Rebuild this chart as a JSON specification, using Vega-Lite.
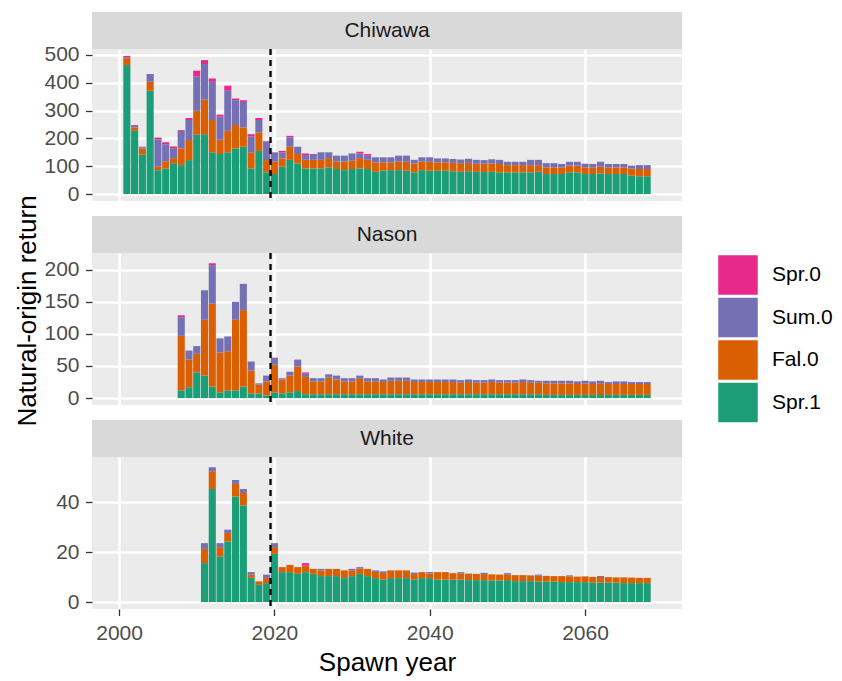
{
"$schema":"https://vega.github.io/schema/vega-lite/v6.json",
"padding":{"left":14,"top":12,"right":5,"bottom":5},
"background":"#FFFFFF",
"bounds":"flush",
"spacing":0,
"config":{"font":"Liberation Sans","view":{"fill":"#EBEBEB","stroke":null},
"axis":{"domain":false,"gridColor":"#FFFFFF","gridWidth":2.6,"tickColor":"#333333","tickSize":6.5,"tickWidth":1.3,"labelColor":"#4D4D4D","labelFontSize":21,"labelFont":"Liberation Sans","labelPadding":6.5,"titleFont":"Liberation Sans","titleFontSize":26,"titleFontWeight":"normal","titleColor":"#000000"},
"legend":{"symbolType":"square","symbolSize":1560,"symbolStrokeWidth":0,"symbolOpacity":1,"labelFontSize":21,"labelFont":"Liberation Sans","labelColor":"#000000","rowPadding":2.5,"labelOffset":14,"padding":0}},
"datasets":{
"strips":[{"site":"Chiwawa"},{"site":"Nason"},{"site":"White"}],
"levels":[{"cls":"Spr.0","lvl":1},{"cls":"Sum.0","lvl":2},{"cls":"Fal.0","lvl":3},{"cls":"Spr.1","lvl":4}],
"chiwawa":[
{"year":2001,"cls":"Spr.1","n":463},{"year":2001,"cls":"Fal.0","n":25},{"year":2001,"cls":"Sum.0","n":3},{"year":2001,"cls":"Spr.0","n":5},
{"year":2002,"cls":"Spr.1","n":227},{"year":2002,"cls":"Fal.0","n":12},{"year":2002,"cls":"Sum.0","n":6},{"year":2002,"cls":"Spr.0","n":3},
{"year":2003,"cls":"Spr.1","n":142},{"year":2003,"cls":"Fal.0","n":22},{"year":2003,"cls":"Sum.0","n":4},{"year":2003,"cls":"Spr.0","n":2},
{"year":2004,"cls":"Spr.1","n":371},{"year":2004,"cls":"Fal.0","n":32},{"year":2004,"cls":"Sum.0","n":28},
{"year":2005,"cls":"Spr.1","n":86},{"year":2005,"cls":"Fal.0","n":12},{"year":2005,"cls":"Sum.0","n":99},{"year":2005,"cls":"Spr.0","n":6},
{"year":2006,"cls":"Spr.1","n":92},{"year":2006,"cls":"Fal.0","n":25},{"year":2006,"cls":"Sum.0","n":62},{"year":2006,"cls":"Spr.0","n":7},
{"year":2007,"cls":"Spr.1","n":111},{"year":2007,"cls":"Fal.0","n":18},{"year":2007,"cls":"Sum.0","n":36},{"year":2007,"cls":"Spr.0","n":6},
{"year":2008,"cls":"Spr.1","n":104},{"year":2008,"cls":"Fal.0","n":60},{"year":2008,"cls":"Sum.0","n":63},{"year":2008,"cls":"Spr.0","n":3},
{"year":2009,"cls":"Spr.1","n":122},{"year":2009,"cls":"Fal.0","n":72},{"year":2009,"cls":"Sum.0","n":72},{"year":2009,"cls":"Spr.0","n":7},
{"year":2010,"cls":"Spr.1","n":213},{"year":2010,"cls":"Fal.0","n":86},{"year":2010,"cls":"Sum.0","n":123},{"year":2010,"cls":"Spr.0","n":21},
{"year":2011,"cls":"Spr.1","n":215},{"year":2011,"cls":"Fal.0","n":124},{"year":2011,"cls":"Sum.0","n":128},{"year":2011,"cls":"Spr.0","n":14},
{"year":2012,"cls":"Spr.1","n":150},{"year":2012,"cls":"Fal.0","n":116},{"year":2012,"cls":"Sum.0","n":137},{"year":2012,"cls":"Spr.0","n":12},
{"year":2013,"cls":"Spr.1","n":144},{"year":2013,"cls":"Fal.0","n":51},{"year":2013,"cls":"Sum.0","n":83},{"year":2013,"cls":"Spr.0","n":7},
{"year":2014,"cls":"Spr.1","n":150},{"year":2014,"cls":"Fal.0","n":77},{"year":2014,"cls":"Sum.0","n":144},{"year":2014,"cls":"Spr.0","n":18},
{"year":2015,"cls":"Spr.1","n":164},{"year":2015,"cls":"Fal.0","n":84},{"year":2015,"cls":"Sum.0","n":89},{"year":2015,"cls":"Spr.0","n":6},
{"year":2016,"cls":"Spr.1","n":170},{"year":2016,"cls":"Fal.0","n":69},{"year":2016,"cls":"Sum.0","n":92},{"year":2016,"cls":"Spr.0","n":6},
{"year":2017,"cls":"Spr.1","n":92},{"year":2017,"cls":"Fal.0","n":58},{"year":2017,"cls":"Sum.0","n":57},{"year":2017,"cls":"Spr.0","n":8},
{"year":2018,"cls":"Spr.1","n":155},{"year":2018,"cls":"Fal.0","n":66},{"year":2018,"cls":"Sum.0","n":45},{"year":2018,"cls":"Spr.0","n":7},
{"year":2019,"cls":"Spr.1","n":78},{"year":2019,"cls":"Fal.0","n":44},{"year":2019,"cls":"Sum.0","n":66},{"year":2019,"cls":"Spr.0","n":2},
{"year":2020,"cls":"Spr.1","n":72},{"year":2020,"cls":"Fal.0","n":44},{"year":2020,"cls":"Sum.0","n":34},
{"year":2021,"cls":"Spr.1","n":98},{"year":2021,"cls":"Fal.0","n":30},{"year":2021,"cls":"Sum.0","n":22},{"year":2021,"cls":"Spr.0","n":5},
{"year":2022,"cls":"Spr.1","n":123},{"year":2022,"cls":"Fal.0","n":47},{"year":2022,"cls":"Sum.0","n":33},{"year":2022,"cls":"Spr.0","n":6},
{"year":2023,"cls":"Spr.1","n":110},{"year":2023,"cls":"Fal.0","n":34},{"year":2023,"cls":"Sum.0","n":26},
{"year":2024,"cls":"Spr.1","n":92},{"year":2024,"cls":"Fal.0","n":31},{"year":2024,"cls":"Sum.0","n":17},{"year":2024,"cls":"Spr.0","n":6},
{"year":2025,"cls":"Spr.1","n":92},{"year":2025,"cls":"Fal.0","n":31},{"year":2025,"cls":"Sum.0","n":21},
{"year":2026,"cls":"Spr.1","n":92},{"year":2026,"cls":"Fal.0","n":31},{"year":2026,"cls":"Sum.0","n":27},
{"year":2027,"cls":"Spr.1","n":96},{"year":2027,"cls":"Fal.0","n":33},{"year":2027,"cls":"Sum.0","n":21},
{"year":2028,"cls":"Spr.1","n":90},{"year":2028,"cls":"Fal.0","n":27},{"year":2028,"cls":"Sum.0","n":21},
{"year":2029,"cls":"Spr.1","n":86},{"year":2029,"cls":"Fal.0","n":31},{"year":2029,"cls":"Sum.0","n":21},
{"year":2030,"cls":"Spr.1","n":90},{"year":2030,"cls":"Fal.0","n":30},{"year":2030,"cls":"Sum.0","n":26},
{"year":2031,"cls":"Spr.1","n":92},{"year":2031,"cls":"Fal.0","n":37},{"year":2031,"cls":"Sum.0","n":17},{"year":2031,"cls":"Spr.0","n":6},
{"year":2032,"cls":"Spr.1","n":90},{"year":2032,"cls":"Fal.0","n":33},{"year":2032,"cls":"Sum.0","n":15},{"year":2032,"cls":"Spr.0","n":6},
{"year":2033,"cls":"Spr.1","n":80},{"year":2033,"cls":"Fal.0","n":34},{"year":2033,"cls":"Sum.0","n":18},
{"year":2034,"cls":"Spr.1","n":84},{"year":2034,"cls":"Fal.0","n":30},{"year":2034,"cls":"Sum.0","n":18},
{"year":2035,"cls":"Spr.1","n":86},{"year":2035,"cls":"Fal.0","n":28},{"year":2035,"cls":"Sum.0","n":18},
{"year":2036,"cls":"Spr.1","n":86},{"year":2036,"cls":"Fal.0","n":31},{"year":2036,"cls":"Sum.0","n":21},
{"year":2037,"cls":"Spr.1","n":84},{"year":2037,"cls":"Fal.0","n":32},{"year":2037,"cls":"Sum.0","n":22},
{"year":2038,"cls":"Spr.1","n":78},{"year":2038,"cls":"Fal.0","n":32},{"year":2038,"cls":"Sum.0","n":13},
{"year":2039,"cls":"Spr.1","n":86},{"year":2039,"cls":"Fal.0","n":31},{"year":2039,"cls":"Sum.0","n":15},
{"year":2040,"cls":"Spr.1","n":84},{"year":2040,"cls":"Fal.0","n":32},{"year":2040,"cls":"Sum.0","n":16},
{"year":2041,"cls":"Spr.1","n":84},{"year":2041,"cls":"Fal.0","n":30},{"year":2041,"cls":"Sum.0","n":14},
{"year":2042,"cls":"Spr.1","n":84},{"year":2042,"cls":"Fal.0","n":30},{"year":2042,"cls":"Sum.0","n":14},
{"year":2043,"cls":"Spr.1","n":82},{"year":2043,"cls":"Fal.0","n":30},{"year":2043,"cls":"Sum.0","n":14},
{"year":2044,"cls":"Spr.1","n":80},{"year":2044,"cls":"Fal.0","n":31},{"year":2044,"cls":"Sum.0","n":13},
{"year":2045,"cls":"Spr.1","n":82},{"year":2045,"cls":"Fal.0","n":30},{"year":2045,"cls":"Sum.0","n":15},
{"year":2046,"cls":"Spr.1","n":80},{"year":2046,"cls":"Fal.0","n":29},{"year":2046,"cls":"Sum.0","n":14},
{"year":2047,"cls":"Spr.1","n":79},{"year":2047,"cls":"Fal.0","n":30},{"year":2047,"cls":"Sum.0","n":13},
{"year":2048,"cls":"Spr.1","n":80},{"year":2048,"cls":"Fal.0","n":30},{"year":2048,"cls":"Sum.0","n":15},
{"year":2049,"cls":"Spr.1","n":78},{"year":2049,"cls":"Fal.0","n":30},{"year":2049,"cls":"Sum.0","n":15},
{"year":2050,"cls":"Spr.1","n":78},{"year":2050,"cls":"Fal.0","n":26},{"year":2050,"cls":"Sum.0","n":12},
{"year":2051,"cls":"Spr.1","n":78},{"year":2051,"cls":"Fal.0","n":26},{"year":2051,"cls":"Sum.0","n":12},
{"year":2052,"cls":"Spr.1","n":78},{"year":2052,"cls":"Fal.0","n":26},{"year":2052,"cls":"Sum.0","n":12},
{"year":2053,"cls":"Spr.1","n":78},{"year":2053,"cls":"Fal.0","n":26},{"year":2053,"cls":"Sum.0","n":19},
{"year":2054,"cls":"Spr.1","n":80},{"year":2054,"cls":"Fal.0","n":24},{"year":2054,"cls":"Sum.0","n":19},
{"year":2055,"cls":"Spr.1","n":72},{"year":2055,"cls":"Fal.0","n":24},{"year":2055,"cls":"Sum.0","n":15},
{"year":2056,"cls":"Spr.1","n":72},{"year":2056,"cls":"Fal.0","n":24},{"year":2056,"cls":"Sum.0","n":15},
{"year":2057,"cls":"Spr.1","n":72},{"year":2057,"cls":"Fal.0","n":24},{"year":2057,"cls":"Sum.0","n":12},
{"year":2058,"cls":"Spr.1","n":78},{"year":2058,"cls":"Fal.0","n":24},{"year":2058,"cls":"Sum.0","n":14},
{"year":2059,"cls":"Spr.1","n":78},{"year":2059,"cls":"Fal.0","n":24},{"year":2059,"cls":"Sum.0","n":14},
{"year":2060,"cls":"Spr.1","n":72},{"year":2060,"cls":"Fal.0","n":24},{"year":2060,"cls":"Sum.0","n":13},
{"year":2061,"cls":"Spr.1","n":72},{"year":2061,"cls":"Fal.0","n":24},{"year":2061,"cls":"Sum.0","n":12},
{"year":2062,"cls":"Spr.1","n":74},{"year":2062,"cls":"Fal.0","n":24},{"year":2062,"cls":"Sum.0","n":18},
{"year":2063,"cls":"Spr.1","n":72},{"year":2063,"cls":"Fal.0","n":24},{"year":2063,"cls":"Sum.0","n":12},
{"year":2064,"cls":"Spr.1","n":72},{"year":2064,"cls":"Fal.0","n":24},{"year":2064,"cls":"Sum.0","n":12},
{"year":2065,"cls":"Spr.1","n":72},{"year":2065,"cls":"Fal.0","n":24},{"year":2065,"cls":"Sum.0","n":12},
{"year":2066,"cls":"Spr.1","n":66},{"year":2066,"cls":"Fal.0","n":26},{"year":2066,"cls":"Sum.0","n":10},
{"year":2067,"cls":"Spr.1","n":64},{"year":2067,"cls":"Fal.0","n":26},{"year":2067,"cls":"Sum.0","n":14},
{"year":2068,"cls":"Spr.1","n":64},{"year":2068,"cls":"Fal.0","n":26},{"year":2068,"cls":"Sum.0","n":14}
],
"nason":[
{"year":2008,"cls":"Spr.1","n":12},{"year":2008,"cls":"Fal.0","n":85},{"year":2008,"cls":"Sum.0","n":29},{"year":2008,"cls":"Spr.0","n":3},
{"year":2009,"cls":"Spr.1","n":17},{"year":2009,"cls":"Fal.0","n":43},{"year":2009,"cls":"Sum.0","n":14},
{"year":2010,"cls":"Spr.1","n":40},{"year":2010,"cls":"Fal.0","n":29},{"year":2010,"cls":"Sum.0","n":12},
{"year":2011,"cls":"Spr.1","n":35},{"year":2011,"cls":"Fal.0","n":87},{"year":2011,"cls":"Sum.0","n":46},
{"year":2012,"cls":"Spr.1","n":18},{"year":2012,"cls":"Fal.0","n":129},{"year":2012,"cls":"Sum.0","n":60},{"year":2012,"cls":"Spr.0","n":3},
{"year":2013,"cls":"Spr.1","n":9},{"year":2013,"cls":"Fal.0","n":62},{"year":2013,"cls":"Sum.0","n":22},
{"year":2014,"cls":"Spr.1","n":12},{"year":2014,"cls":"Fal.0","n":61},{"year":2014,"cls":"Sum.0","n":23},
{"year":2015,"cls":"Spr.1","n":12},{"year":2015,"cls":"Fal.0","n":110},{"year":2015,"cls":"Sum.0","n":28},
{"year":2016,"cls":"Spr.1","n":18},{"year":2016,"cls":"Fal.0","n":119},{"year":2016,"cls":"Sum.0","n":41},
{"year":2017,"cls":"Spr.1","n":7},{"year":2017,"cls":"Fal.0","n":36},{"year":2017,"cls":"Sum.0","n":14},
{"year":2018,"cls":"Spr.1","n":7},{"year":2018,"cls":"Fal.0","n":14},{"year":2018,"cls":"Sum.0","n":2},
{"year":2019,"cls":"Spr.1","n":4},{"year":2019,"cls":"Fal.0","n":22},{"year":2019,"cls":"Sum.0","n":9},
{"year":2020,"cls":"Spr.1","n":9},{"year":2020,"cls":"Fal.0","n":43},{"year":2020,"cls":"Sum.0","n":11},
{"year":2021,"cls":"Spr.1","n":7},{"year":2021,"cls":"Fal.0","n":22},{"year":2021,"cls":"Sum.0","n":2},
{"year":2022,"cls":"Spr.1","n":9},{"year":2022,"cls":"Fal.0","n":26},{"year":2022,"cls":"Sum.0","n":6},
{"year":2023,"cls":"Spr.1","n":11},{"year":2023,"cls":"Fal.0","n":38},{"year":2023,"cls":"Sum.0","n":11},
{"year":2024,"cls":"Spr.1","n":6},{"year":2024,"cls":"Fal.0","n":27},{"year":2024,"cls":"Sum.0","n":5},{"year":2024,"cls":"Spr.0","n":2},
{"year":2025,"cls":"Spr.1","n":6},{"year":2025,"cls":"Fal.0","n":20},{"year":2025,"cls":"Sum.0","n":5},
{"year":2026,"cls":"Spr.1","n":6},{"year":2026,"cls":"Fal.0","n":20},{"year":2026,"cls":"Sum.0","n":5},
{"year":2027,"cls":"Spr.1","n":6},{"year":2027,"cls":"Fal.0","n":26},{"year":2027,"cls":"Sum.0","n":5},
{"year":2028,"cls":"Spr.1","n":6},{"year":2028,"cls":"Fal.0","n":23},{"year":2028,"cls":"Sum.0","n":6},
{"year":2029,"cls":"Spr.1","n":6},{"year":2029,"cls":"Fal.0","n":20},{"year":2029,"cls":"Sum.0","n":5},
{"year":2030,"cls":"Spr.1","n":6},{"year":2030,"cls":"Fal.0","n":20},{"year":2030,"cls":"Sum.0","n":5},
{"year":2031,"cls":"Spr.1","n":6},{"year":2031,"cls":"Fal.0","n":24},{"year":2031,"cls":"Sum.0","n":5},
{"year":2032,"cls":"Spr.1","n":6},{"year":2032,"cls":"Fal.0","n":20},{"year":2032,"cls":"Sum.0","n":5},
{"year":2033,"cls":"Spr.1","n":6},{"year":2033,"cls":"Fal.0","n":20},{"year":2033,"cls":"Sum.0","n":5},
{"year":2034,"cls":"Spr.1","n":6},{"year":2034,"cls":"Fal.0","n":19},{"year":2034,"cls":"Sum.0","n":4},
{"year":2035,"cls":"Spr.1","n":6},{"year":2035,"cls":"Fal.0","n":21},{"year":2035,"cls":"Sum.0","n":5},
{"year":2036,"cls":"Spr.1","n":6},{"year":2036,"cls":"Fal.0","n":21},{"year":2036,"cls":"Sum.0","n":5},
{"year":2037,"cls":"Spr.1","n":6},{"year":2037,"cls":"Fal.0","n":21},{"year":2037,"cls":"Sum.0","n":5},
{"year":2038,"cls":"Spr.1","n":6},{"year":2038,"cls":"Fal.0","n":19},{"year":2038,"cls":"Sum.0","n":4},
{"year":2039,"cls":"Spr.1","n":6},{"year":2039,"cls":"Fal.0","n":19},{"year":2039,"cls":"Sum.0","n":4},
{"year":2040,"cls":"Spr.1","n":6},{"year":2040,"cls":"Fal.0","n":19},{"year":2040,"cls":"Sum.0","n":4},
{"year":2041,"cls":"Spr.1","n":6},{"year":2041,"cls":"Fal.0","n":19},{"year":2041,"cls":"Sum.0","n":4},
{"year":2042,"cls":"Spr.1","n":6},{"year":2042,"cls":"Fal.0","n":19},{"year":2042,"cls":"Sum.0","n":4},
{"year":2043,"cls":"Spr.1","n":6},{"year":2043,"cls":"Fal.0","n":19},{"year":2043,"cls":"Sum.0","n":4},
{"year":2044,"cls":"Spr.1","n":6},{"year":2044,"cls":"Fal.0","n":18},{"year":2044,"cls":"Sum.0","n":4},
{"year":2045,"cls":"Spr.1","n":6},{"year":2045,"cls":"Fal.0","n":19},{"year":2045,"cls":"Sum.0","n":4},
{"year":2046,"cls":"Spr.1","n":6},{"year":2046,"cls":"Fal.0","n":18},{"year":2046,"cls":"Sum.0","n":4},
{"year":2047,"cls":"Spr.1","n":6},{"year":2047,"cls":"Fal.0","n":18},{"year":2047,"cls":"Sum.0","n":4},
{"year":2048,"cls":"Spr.1","n":6},{"year":2048,"cls":"Fal.0","n":19},{"year":2048,"cls":"Sum.0","n":4},
{"year":2049,"cls":"Spr.1","n":6},{"year":2049,"cls":"Fal.0","n":18},{"year":2049,"cls":"Sum.0","n":4},
{"year":2050,"cls":"Spr.1","n":6},{"year":2050,"cls":"Fal.0","n":18},{"year":2050,"cls":"Sum.0","n":4},
{"year":2051,"cls":"Spr.1","n":6},{"year":2051,"cls":"Fal.0","n":18},{"year":2051,"cls":"Sum.0","n":4},
{"year":2052,"cls":"Spr.1","n":6},{"year":2052,"cls":"Fal.0","n":19},{"year":2052,"cls":"Sum.0","n":4},
{"year":2053,"cls":"Spr.1","n":6},{"year":2053,"cls":"Fal.0","n":18},{"year":2053,"cls":"Sum.0","n":4},
{"year":2054,"cls":"Spr.1","n":6},{"year":2054,"cls":"Fal.0","n":18},{"year":2054,"cls":"Sum.0","n":3},
{"year":2055,"cls":"Spr.1","n":5},{"year":2055,"cls":"Fal.0","n":18},{"year":2055,"cls":"Sum.0","n":4},
{"year":2056,"cls":"Spr.1","n":5},{"year":2056,"cls":"Fal.0","n":18},{"year":2056,"cls":"Sum.0","n":4},
{"year":2057,"cls":"Spr.1","n":5},{"year":2057,"cls":"Fal.0","n":18},{"year":2057,"cls":"Sum.0","n":4},
{"year":2058,"cls":"Spr.1","n":5},{"year":2058,"cls":"Fal.0","n":18},{"year":2058,"cls":"Sum.0","n":4},
{"year":2059,"cls":"Spr.1","n":5},{"year":2059,"cls":"Fal.0","n":17},{"year":2059,"cls":"Sum.0","n":4},
{"year":2060,"cls":"Spr.1","n":5},{"year":2060,"cls":"Fal.0","n":18},{"year":2060,"cls":"Sum.0","n":4},
{"year":2061,"cls":"Spr.1","n":5},{"year":2061,"cls":"Fal.0","n":17},{"year":2061,"cls":"Sum.0","n":4},
{"year":2062,"cls":"Spr.1","n":5},{"year":2062,"cls":"Fal.0","n":18},{"year":2062,"cls":"Sum.0","n":4},
{"year":2063,"cls":"Spr.1","n":5},{"year":2063,"cls":"Fal.0","n":17},{"year":2063,"cls":"Sum.0","n":3},
{"year":2064,"cls":"Spr.1","n":5},{"year":2064,"cls":"Fal.0","n":17},{"year":2064,"cls":"Sum.0","n":4},
{"year":2065,"cls":"Spr.1","n":5},{"year":2065,"cls":"Fal.0","n":17},{"year":2065,"cls":"Sum.0","n":4},
{"year":2066,"cls":"Spr.1","n":5},{"year":2066,"cls":"Fal.0","n":17},{"year":2066,"cls":"Sum.0","n":3},
{"year":2067,"cls":"Spr.1","n":5},{"year":2067,"cls":"Fal.0","n":17},{"year":2067,"cls":"Sum.0","n":3},
{"year":2068,"cls":"Spr.1","n":5},{"year":2068,"cls":"Fal.0","n":17},{"year":2068,"cls":"Sum.0","n":3}
],
"white":[
{"year":2011,"cls":"Spr.1","n":15.6},{"year":2011,"cls":"Fal.0","n":5.7},{"year":2011,"cls":"Sum.0","n":2.3},
{"year":2012,"cls":"Spr.1","n":45.3},{"year":2012,"cls":"Fal.0","n":7.1},{"year":2012,"cls":"Sum.0","n":1.6},
{"year":2013,"cls":"Spr.1","n":18.3},{"year":2013,"cls":"Fal.0","n":3.7},{"year":2013,"cls":"Sum.0","n":1.6},
{"year":2014,"cls":"Spr.1","n":24.3},{"year":2014,"cls":"Fal.0","n":3.4},{"year":2014,"cls":"Sum.0","n":1.3},
{"year":2015,"cls":"Spr.1","n":42.3},{"year":2015,"cls":"Fal.0","n":5.0},{"year":2015,"cls":"Sum.0","n":1.6},
{"year":2016,"cls":"Spr.1","n":38.7},{"year":2016,"cls":"Fal.0","n":5.0},{"year":2016,"cls":"Sum.0","n":1.6},
{"year":2017,"cls":"Spr.1","n":9.7},{"year":2017,"cls":"Fal.0","n":1.3},{"year":2017,"cls":"Sum.0","n":1.0},
{"year":2018,"cls":"Spr.1","n":6.9},{"year":2018,"cls":"Fal.0","n":1.4},
{"year":2019,"cls":"Spr.1","n":7.6},{"year":2019,"cls":"Fal.0","n":2.1},{"year":2019,"cls":"Sum.0","n":1.3},
{"year":2020,"cls":"Spr.1","n":19.3},{"year":2020,"cls":"Fal.0","n":2.7},{"year":2020,"cls":"Sum.0","n":1.6},
{"year":2021,"cls":"Spr.1","n":12.0},{"year":2021,"cls":"Fal.0","n":2.0},
{"year":2022,"cls":"Spr.1","n":12.0},{"year":2022,"cls":"Fal.0","n":2.9},
{"year":2023,"cls":"Spr.1","n":11.3},{"year":2023,"cls":"Fal.0","n":2.7},
{"year":2024,"cls":"Spr.1","n":12.0},{"year":2024,"cls":"Fal.0","n":2.6},{"year":2024,"cls":"Spr.0","n":1.0},
{"year":2025,"cls":"Spr.1","n":11.3},{"year":2025,"cls":"Fal.0","n":2.0},
{"year":2026,"cls":"Spr.1","n":10.4},{"year":2026,"cls":"Fal.0","n":2.3},{"year":2026,"cls":"Sum.0","n":0.6},
{"year":2027,"cls":"Spr.1","n":10.4},{"year":2027,"cls":"Fal.0","n":2.9},
{"year":2028,"cls":"Spr.1","n":10.4},{"year":2028,"cls":"Fal.0","n":2.9},
{"year":2029,"cls":"Spr.1","n":9.6},{"year":2029,"cls":"Fal.0","n":3.1},
{"year":2030,"cls":"Spr.1","n":10.4},{"year":2030,"cls":"Fal.0","n":2.3},{"year":2030,"cls":"Sum.0","n":0.6},
{"year":2031,"cls":"Spr.1","n":11.3},{"year":2031,"cls":"Fal.0","n":2.1},{"year":2031,"cls":"Sum.0","n":0.6},
{"year":2032,"cls":"Spr.1","n":10.4},{"year":2032,"cls":"Fal.0","n":2.9},
{"year":2033,"cls":"Spr.1","n":9.6},{"year":2033,"cls":"Fal.0","n":2.5},{"year":2033,"cls":"Sum.0","n":0.6},
{"year":2034,"cls":"Spr.1","n":9.0},{"year":2034,"cls":"Fal.0","n":2.7},{"year":2034,"cls":"Sum.0","n":0.6},
{"year":2035,"cls":"Spr.1","n":9.6},{"year":2035,"cls":"Fal.0","n":3.1},
{"year":2036,"cls":"Spr.1","n":9.6},{"year":2036,"cls":"Fal.0","n":3.1},
{"year":2037,"cls":"Spr.1","n":9.6},{"year":2037,"cls":"Fal.0","n":3.1},
{"year":2038,"cls":"Spr.1","n":9.0},{"year":2038,"cls":"Fal.0","n":2.2},{"year":2038,"cls":"Sum.0","n":0.6},
{"year":2039,"cls":"Spr.1","n":9.6},{"year":2039,"cls":"Fal.0","n":2.4},
{"year":2040,"cls":"Spr.1","n":9.6},{"year":2040,"cls":"Fal.0","n":1.8},{"year":2040,"cls":"Sum.0","n":0.6},
{"year":2041,"cls":"Spr.1","n":9.0},{"year":2041,"cls":"Fal.0","n":3.0},
{"year":2042,"cls":"Spr.1","n":9.0},{"year":2042,"cls":"Fal.0","n":3.0},
{"year":2043,"cls":"Spr.1","n":9.0},{"year":2043,"cls":"Fal.0","n":2.6},
{"year":2044,"cls":"Spr.1","n":9.0},{"year":2044,"cls":"Fal.0","n":2.5},{"year":2044,"cls":"Sum.0","n":0.5},
{"year":2045,"cls":"Spr.1","n":8.8},{"year":2045,"cls":"Fal.0","n":2.6},
{"year":2046,"cls":"Spr.1","n":8.8},{"year":2046,"cls":"Fal.0","n":2.5},
{"year":2047,"cls":"Spr.1","n":8.8},{"year":2047,"cls":"Fal.0","n":2.4},{"year":2047,"cls":"Sum.0","n":0.5},
{"year":2048,"cls":"Spr.1","n":8.6},{"year":2048,"cls":"Fal.0","n":2.5},
{"year":2049,"cls":"Spr.1","n":8.6},{"year":2049,"cls":"Fal.0","n":2.4},
{"year":2050,"cls":"Spr.1","n":8.8},{"year":2050,"cls":"Fal.0","n":2.3},{"year":2050,"cls":"Sum.0","n":0.5},
{"year":2051,"cls":"Spr.1","n":8.4},{"year":2051,"cls":"Fal.0","n":2.4},
{"year":2052,"cls":"Spr.1","n":8.4},{"year":2052,"cls":"Fal.0","n":2.4},
{"year":2053,"cls":"Spr.1","n":8.4},{"year":2053,"cls":"Fal.0","n":2.3},
{"year":2054,"cls":"Spr.1","n":8.2},{"year":2054,"cls":"Fal.0","n":2.4},{"year":2054,"cls":"Sum.0","n":0.4},
{"year":2055,"cls":"Spr.1","n":8.2},{"year":2055,"cls":"Fal.0","n":2.3},
{"year":2056,"cls":"Spr.1","n":8.2},{"year":2056,"cls":"Fal.0","n":2.2},
{"year":2057,"cls":"Spr.1","n":8.0},{"year":2057,"cls":"Fal.0","n":2.4},
{"year":2058,"cls":"Spr.1","n":8.0},{"year":2058,"cls":"Fal.0","n":2.3},{"year":2058,"cls":"Sum.0","n":0.4},
{"year":2059,"cls":"Spr.1","n":8.0},{"year":2059,"cls":"Fal.0","n":2.2},
{"year":2060,"cls":"Spr.1","n":8.0},{"year":2060,"cls":"Fal.0","n":2.3},
{"year":2061,"cls":"Spr.1","n":7.8},{"year":2061,"cls":"Fal.0","n":2.3},
{"year":2062,"cls":"Spr.1","n":7.8},{"year":2062,"cls":"Fal.0","n":2.2},{"year":2062,"cls":"Sum.0","n":0.4},
{"year":2063,"cls":"Spr.1","n":7.8},{"year":2063,"cls":"Fal.0","n":2.2},
{"year":2064,"cls":"Spr.1","n":7.8},{"year":2064,"cls":"Fal.0","n":2.1},
{"year":2065,"cls":"Spr.1","n":7.6},{"year":2065,"cls":"Fal.0","n":2.3},
{"year":2066,"cls":"Spr.1","n":7.6},{"year":2066,"cls":"Fal.0","n":2.2},
{"year":2067,"cls":"Spr.1","n":7.6},{"year":2067,"cls":"Fal.0","n":2.1},
{"year":2068,"cls":"Spr.1","n":7.6},{"year":2068,"cls":"Fal.0","n":2.1}
]},
"vconcat":[
 {"data":{"name":"strips"},"transform":[{"filter":{"field":"site","equal":"Chiwawa"}}],"width":590,"height":37,"view":{"fill":"#D9D9D9","stroke":null},
  "mark":{"type":"text","fontSize":21,"color":"#1A1A1A","font":"Liberation Sans"},"encoding":{"text":{"field":"site"}}},
 {"data":{"name":"chiwawa"},"width":590,"height":152,
  "transform":[{"lookup":"cls","from":{"data":{"name":"levels"},"key":"cls","fields":["lvl"]}}],
  "layer":[
   {"mark":{"type":"bar","width":7.1},
    "encoding":{
     "x":{"field":"year","type":"quantitative","scale":{"domain":[1997.155,2071.845],"nice":false,"zero":false},"axis":{"values":[2000,2020,2040,2060],"labels":false,"ticks":false,"title":null}},
     "y":{"field":"n","type":"quantitative","stack":"zero","scale":{"domain":[-24.8,520.8],"nice":false,"zero":false},"axis":{"values":[0,100,200,300,400,500],"title":null}},
     "order":{"field":"lvl","type":"quantitative","sort":"descending"},
     "color":{"field":"cls","type":"nominal","scale":{"domain":["Spr.0","Sum.0","Fal.0","Spr.1"],"range":["#E7298A","#7570B3","#D95F02","#1B9E77"]},"legend":{"title":null,"orient":"none","legendX":626,"legendY":243}}}},
   {"mark":{"type":"point","opacity":0},
    "encoding":{
     "x":{"field":"year","type":"quantitative","axis":{"orient":"top","values":[2010,2030,2050,2070],"labels":false,"ticks":false,"title":null,"gridWidth":1.3}},
     "y":{"field":"n","type":"quantitative","axis":{"orient":"right","values":[50,150,250,350,450],"labels":false,"ticks":false,"title":null,"gridWidth":1.3}}}},
   {"data":{"values":[{"start":2019.5}]},"mark":{"type":"rule","strokeDash":[6,5],"strokeWidth":2.3,"color":"#000000"},
    "encoding":{"x":{"field":"start","type":"quantitative","axis":null}}}
  ],
  "resolve":{"axis":{"x":"independent","y":"independent"}}},
 {"data":{"name":"strips"},"transform":[{"filter":{"field":"site","equal":"-"}}],"width":590,"height":15,"view":{"fill":null,"stroke":null},
  "mark":{"type":"text"},"encoding":{"text":{"field":"site"}}},
 {"data":{"name":"strips"},"transform":[{"filter":{"field":"site","equal":"Nason"}}],"width":590,"height":37,"view":{"fill":"#D9D9D9","stroke":null},
  "mark":{"type":"text","fontSize":21,"color":"#1A1A1A","font":"Liberation Sans"},"encoding":{"text":{"field":"site"}}},
 {"data":{"name":"nason"},"width":590,"height":152,
  "transform":[{"lookup":"cls","from":{"data":{"name":"levels"},"key":"cls","fields":["lvl"]}}],
  "layer":[
   {"mark":{"type":"bar","width":7.1},
    "encoding":{
     "x":{"field":"year","type":"quantitative","scale":{"domain":[1997.155,2071.845],"nice":false,"zero":false},"axis":{"values":[2000,2020,2040,2060],"labels":false,"ticks":false,"title":null}},
     "y":{"field":"n","type":"quantitative","stack":"zero","scale":{"domain":[-10.75,226],"nice":false,"zero":false},"axis":{"values":[0,50,100,150,200],"title":"Natural-origin return","titlePadding":3,"titleY":57.5}},
     "order":{"field":"lvl","type":"quantitative","sort":"descending"},
     "color":{"field":"cls","type":"nominal","scale":{"domain":["Spr.0","Sum.0","Fal.0","Spr.1"],"range":["#E7298A","#7570B3","#D95F02","#1B9E77"]},"legend":{"title":null,"orient":"none","legendX":626,"legendY":243}}}},
   {"mark":{"type":"point","opacity":0},
    "encoding":{
     "x":{"field":"year","type":"quantitative","axis":{"orient":"top","values":[2010,2030,2050,2070],"labels":false,"ticks":false,"title":null,"gridWidth":1.3}},
     "y":{"field":"n","type":"quantitative","axis":{"orient":"right","values":[25,75,125,175],"labels":false,"ticks":false,"title":null,"gridWidth":1.3}}}},
   {"data":{"values":[{"start":2019.5}]},"mark":{"type":"rule","strokeDash":[6,5],"strokeWidth":2.3,"color":"#000000"},
    "encoding":{"x":{"field":"start","type":"quantitative","axis":null}}}
  ],
  "resolve":{"axis":{"x":"independent","y":"independent"}}},
 {"data":{"name":"strips"},"transform":[{"filter":{"field":"site","equal":"-"}}],"width":590,"height":15,"view":{"fill":null,"stroke":null},
  "mark":{"type":"text"},"encoding":{"text":{"field":"site"}}},
 {"data":{"name":"strips"},"transform":[{"filter":{"field":"site","equal":"White"}}],"width":590,"height":37,"view":{"fill":"#D9D9D9","stroke":null},
  "mark":{"type":"text","fontSize":21,"color":"#1A1A1A","font":"Liberation Sans"},"encoding":{"text":{"field":"site"}}},
 {"data":{"name":"white"},"width":590,"height":152,
  "transform":[{"lookup":"cls","from":{"data":{"name":"levels"},"key":"cls","fields":["lvl"]}}],
  "layer":[
   {"mark":{"type":"bar","width":7.1},
    "encoding":{
     "x":{"field":"year","type":"quantitative","scale":{"domain":[1997.155,2071.845],"nice":false,"zero":false},"axis":{"values":[2000,2020,2040,2060],"format":"d","title":"Spawn year","titlePadding":6}},
     "y":{"field":"n","type":"quantitative","stack":"zero","scale":{"domain":[-2.77,58.1],"nice":false,"zero":false},"axis":{"values":[0,20,40],"title":null}},
     "order":{"field":"lvl","type":"quantitative","sort":"descending"},
     "color":{"field":"cls","type":"nominal","scale":{"domain":["Spr.0","Sum.0","Fal.0","Spr.1"],"range":["#E7298A","#7570B3","#D95F02","#1B9E77"]},"legend":{"title":null,"orient":"none","legendX":626,"legendY":243}}}},
   {"mark":{"type":"point","opacity":0},
    "encoding":{
     "x":{"field":"year","type":"quantitative","axis":{"orient":"top","values":[2010,2030,2050,2070],"labels":false,"ticks":false,"title":null,"gridWidth":1.3}},
     "y":{"field":"n","type":"quantitative","axis":{"orient":"right","values":[10,30,50],"labels":false,"ticks":false,"title":null,"gridWidth":1.3}}}},
   {"data":{"values":[{"start":2019.5}]},"mark":{"type":"rule","strokeDash":[6,5],"strokeWidth":2.3,"color":"#000000"},
    "encoding":{"x":{"field":"start","type":"quantitative","axis":null}}}
  ],
  "resolve":{"axis":{"x":"independent","y":"independent"}}}
]
}
